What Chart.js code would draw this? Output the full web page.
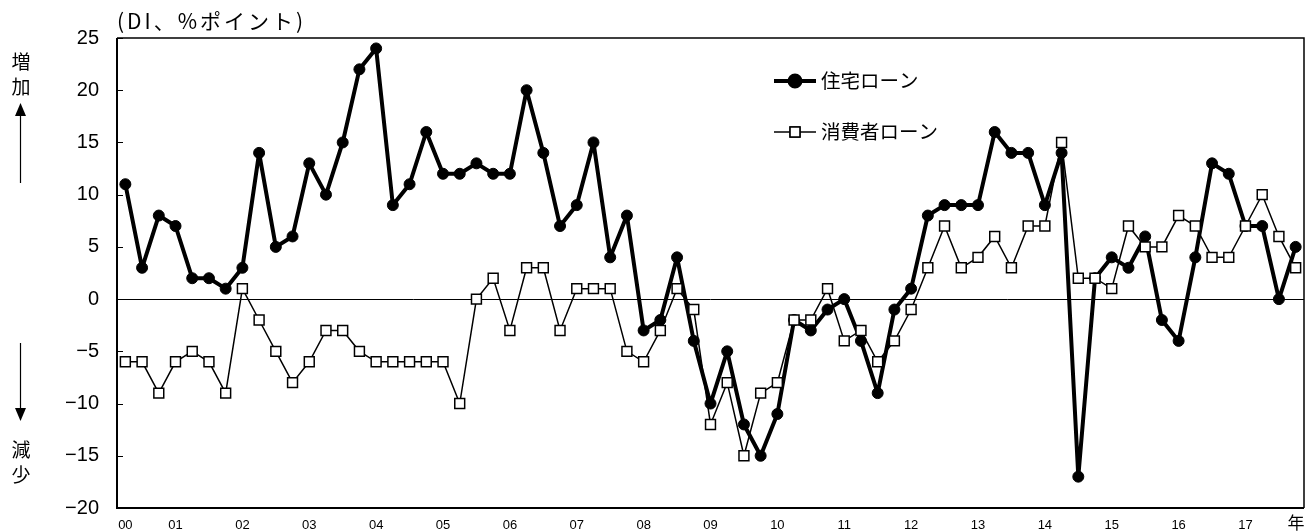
<!DOCTYPE html>
<html lang="ja">
<head>
<meta charset="utf-8">
<title>住宅ローン・消費者ローン DI</title>
<script src="https://cdn.jsdelivr.net/npm/chart.js@4.4.1/dist/chart.umd.min.js"></script>
<style>
  body { margin: 0; background: #fff; }
  #caixa { width: 1316px; height: 532px; position: relative; }
</style>
</head>
<body>
<div id="caixa"><canvas id="graficoDI"></canvas></div>
<script>
// trimestres da pesquisa (ano/mês), de abril de 2000 até outubro de 2017
const trimestres = [
  "00/4", "00/7", "00/10",
  "01/1", "01/4", "01/7", "01/10",
  "02/1", "02/4", "02/7", "02/10",
  "03/1", "03/4", "03/7", "03/10",
  "04/1", "04/4", "04/7", "04/10",
  "05/1", "05/4", "05/7", "05/10",
  "06/1", "06/4", "06/7", "06/10",
  "07/1", "07/4", "07/7", "07/10",
  "08/1", "08/4", "08/7", "08/10",
  "09/1", "09/4", "09/7", "09/10",
  "10/1", "10/4", "10/7", "10/10",
  "11/1", "11/4", "11/7", "11/10",
  "12/1", "12/4", "12/7", "12/10",
  "13/1", "13/4", "13/7", "13/10",
  "14/1", "14/4", "14/7", "14/10",
  "15/1", "15/4", "15/7", "15/10",
  "16/1", "16/4", "16/7", "16/10",
  "17/1", "17/4", "17/7", "17/10"
];

// 住宅ローン
const habitacao = [11, 3, 8, 7, 2, 2, 1, 3, 14, 5, 6, 13, 10, 15, 22, 24,
  9, 11, 16, 12, 12, 13, 12, 12, 20, 14, 7, 9, 15, 4, 8, -3,
  -2, 4, -4, -10, -5, -12, -15, -11, -2, -3, -1, 0, -4, -9, -1, 1,
  8, 9, 9, 9, 16, 14, 14, 9, 14, -17, 2, 4, 3, 6, -2, -4,
  4, 13, 12, 7, 7, 0, 5];

// 消費者ローン
const consumo = [-6, -6, -9, -6, -5, -6, -9, 1, -2, -5, -8, -6, -3, -3, -5, -6,
  -6, -6, -6, -6, -10, 0, 2, -3, 3, 3, -3, 1, 1, 1, -5, -6,
  -3, 1, -1, -12, -8, -15, -9, -8, -2, -2, 1, -4, -3, -6, -4, -1,
  3, 7, 3, 4, 6, 3, 7, 7, 15, 2, 2, 1, 7, 5, 5, 8,
  7, 4, 4, 7, 10, 6, 3];

const nomesSeries = ["住宅ローン", "消費者ローン"];
const tituloEixo = "(DI、%ポイント)";

const fonteJP = '"Noto Sans CJK JP", sans-serif';

// desenha moldura, ticks internos, legenda e textos laterais
const decoracao = {
  id: 'decoracao',
  afterDraw(chart) {
    const ctx = chart.ctx;
    const area = chart.chartArea;
    const eixoY = chart.scales.y;
    ctx.save();
    ctx.strokeStyle = '#000';
    ctx.fillStyle = '#000';

    // topo e direita mais finos
    ctx.lineWidth = 1.5;
    ctx.beginPath();
    ctx.moveTo(area.left, area.top);
    ctx.lineTo(area.right, area.top);
    ctx.lineTo(area.right, area.bottom);
    ctx.stroke();
    // esquerda e base
    ctx.lineWidth = 2;
    ctx.beginPath();
    ctx.moveTo(area.left, area.top);
    ctx.lineTo(area.left, area.bottom);
    ctx.lineTo(area.right, area.bottom);
    ctx.stroke();

    // marcas do eixo y para dentro
    ctx.lineWidth = 1;
    eixoY.ticks.forEach(t => {
      const py = Math.round(eixoY.getPixelForValue(t.value)) + 0.5;
      ctx.beginPath();
      ctx.moveTo(area.left, py);
      ctx.lineTo(area.left + 6, py);
      ctx.stroke();
    });

    // legenda
    const ds = chart.data.datasets;
    const linhas = [81, 132];
    ds.forEach((d, i) => {
      const y = linhas[i];
      ctx.strokeStyle = '#000';
      ctx.lineWidth = d.borderWidth;
      ctx.beginPath();
      ctx.moveTo(774, y);
      ctx.lineTo(816, y);
      ctx.stroke();
      Chart.helpers.drawPoint(ctx, {
        pointStyle: d.pointStyle,
        radius: d.pointRadius,
        borderWidth: d.pointBorderWidth
      }, 795, y);
      ctx.fillStyle = d.pointBackgroundColor;
      ctx.strokeStyle = '#000';
      ctx.lineWidth = d.pointBorderWidth;
      ctx.fill();
      ctx.stroke();
      ctx.fillStyle = '#000';
      ctx.font = '19.5px ' + fonteJP;
      ctx.textAlign = 'left';
      ctx.textBaseline = 'middle';
      ctx.fillText(d.label, 821, y);
    });

    // título do eixo
    ctx.font = '21px ' + fonteJP;
    ctx.letterSpacing = '3px';
    ctx.textAlign = 'left';
    ctx.textBaseline = 'middle';
    ctx.fillText(tituloEixo, 117, 21);
    ctx.letterSpacing = '0px';

    // 年 no fim do eixo x
    ctx.font = '17px ' + fonteJP;
    ctx.textAlign = 'center';
    ctx.fillText("年", 1296, 523);

    // 増加 / 減少 com setas
    ctx.font = '19px ' + fonteJP;
    ctx.fillText("増", 21, 62);
    ctx.fillText("加", 21, 87);
    ctx.fillText("減", 21, 450);
    ctx.fillText("少", 21, 475);

    ctx.lineWidth = 1.2;
    ctx.beginPath();
    ctx.moveTo(20.5, 183);
    ctx.lineTo(20.5, 112);
    ctx.moveTo(20.5, 343);
    ctx.lineTo(20.5, 412);
    ctx.stroke();
    ctx.beginPath();
    ctx.moveTo(20.5, 103);
    ctx.lineTo(15, 116);
    ctx.lineTo(26, 116);
    ctx.closePath();
    ctx.fill();
    ctx.beginPath();
    ctx.moveTo(20.5, 421);
    ctx.lineTo(15, 408);
    ctx.lineTo(26, 408);
    ctx.closePath();
    ctx.fill();

    ctx.restore();
  }
};

const graficoDI = new Chart(document.getElementById('graficoDI'), {
  type: 'line',
  data: {
    labels: trimestres,
    datasets: [{
      label: nomesSeries[0],
      data: habitacao,
      borderColor: '#000',
      borderWidth: 4,
      borderJoinStyle: 'round',
      pointStyle: 'circle',
      pointRadius: 5.5,
      pointBorderWidth: 1,
      pointBackgroundColor: '#000',
      pointBorderColor: '#000',
      order: 1
    }, {
      label: nomesSeries[1],
      data: consumo,
      borderColor: '#000',
      borderWidth: 1.5,
      pointStyle: 'rect',
      pointRadius: 7,
      pointBorderWidth: 1.5,
      pointBackgroundColor: '#fff',
      pointBorderColor: '#000',
      order: 0
    }]
  },
  options: {
    responsive: true,
    maintainAspectRatio: false,
    animation: false,
    layout: { autoPadding: false, padding: { top: 38, right: 12, left: 0, bottom: 0 } },
    plugins: {
      legend: { display: false },
      tooltip: { enabled: false }
    },
    scales: {
      x: {
        offset: true,
        border: { display: false },
        grid: { display: false, drawTicks: false },
        afterFit(scale) { scale.height = 24; },
        ticks: {
          autoSkip: false,
          maxRotation: 0,
          minRotation: 0,
          padding: 10,
          color: '#000',
          font: { family: '"Liberation Sans Narrow", "Liberation Sans", sans-serif', size: 13 },
          callback: (valor, i) => {
            const partes = trimestres[i].split('/');
            return (i === 0 || partes[1] === '1') ? partes[0] : '';
          }
        }
      },
      y: {
        min: -20,
        max: 25,
        border: { display: false },
        afterFit(scale) { scale.width = 117; },
        grid: {
          drawTicks: true,
          tickLength: 18,
          tickColor: 'rgba(0,0,0,0)',
          lineWidth: 1,
          color: ctx => ctx.tick && ctx.tick.value === 0 ? '#000' : 'rgba(0,0,0,0)'
        },
        ticks: {
          stepSize: 5,
          padding: 0,
          color: '#000',
          font: { family: '"Liberation Sans", sans-serif', size: 20 },
          callback: v => v < 0 ? '\u2212' + Math.abs(v) : String(v)
        }
      }
    }
  },
  plugins: [decoracao]
});
</script>
</body>
</html>
